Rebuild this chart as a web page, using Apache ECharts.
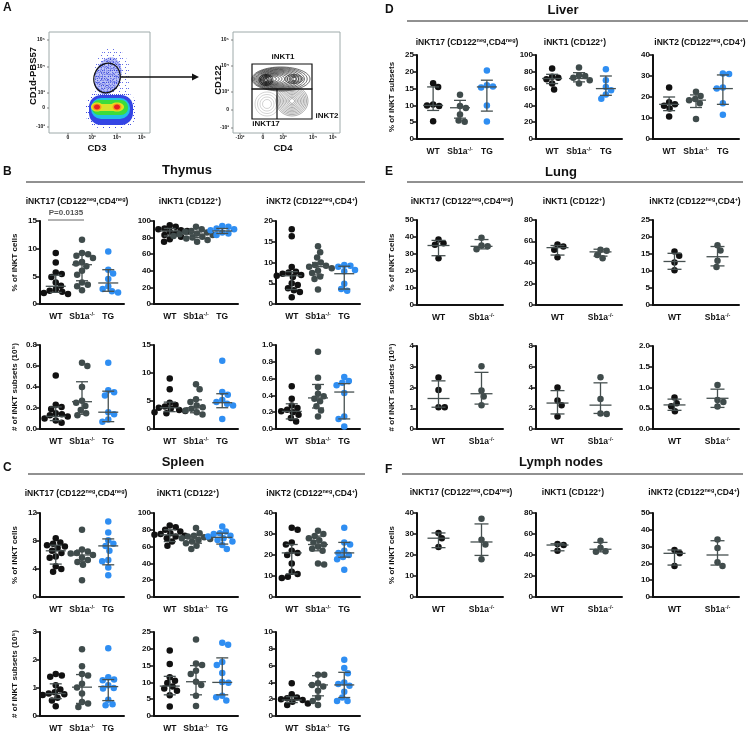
<!DOCTYPE html>
<html>
<head>
<meta charset="utf-8">
<script src="https://cdn.jsdelivr.net/npm/echarts@6/dist/echarts.min.js"></script>
<style>
html, body { margin: 0; background: #fff; }
#main { width: 751px; height: 733px; }
</style>
</head>
<body>
<div id="main"></div>
<script>
// groups
const groupNames = ['WT', 'Sb1a', 'TG'];
const groupColors = ['#111111', '#3f4b4b', '#2f8ef2'];

// thymus, % of iNKT cells  (each: WT, Sb1a, TG) ; bars = [median, low, high]
const thyP17 = [[9.2, 7.5, 5.7, 5.4, 4.9, 3.9, 3.3, 2.6, 2.4, 2.2, 2.0, 1.8, 1.6], [11.6, 9.2, 9.0, 8.7, 8.3, 7.6, 7.3, 6.8, 6.0, 5.3, 3.9, 3.5, 3.2, 2.5], [9.5, 6.2, 5.5, 4.5, 3.2, 2.7, 2.3, 2.1]];
const thyP17Bar = [[3.2, 2.1, 5.2], [7.1, 4.2, 9.0], [3.8, 2.3, 6.2]];
const thyP1 = [[95, 93, 91, 90, 89, 88, 87, 86, 85, 83, 81, 78, 75], [93, 90, 88, 87, 86, 85, 84, 83, 82, 81, 80, 79, 77, 75], [94, 93, 91, 90, 89, 88, 86, 85, 83]];
const thyP1Bar = [[88, 82, 91], [84, 80, 87], [88, 85, 91]];
const thyP2 = [[18, 16.3, 8.9, 7.8, 7.6, 7.3, 7.0, 6.8, 6.5, 5.0, 4.6, 3.8, 3.3, 2.9, 1.6], [13.9, 12.5, 11.2, 10.0, 9.4, 9.2, 9.0, 8.6, 8.0, 7.5, 6.6, 6.0, 3.5], [9.4, 9.2, 9.0, 8.2, 7.9, 4.9, 3.6, 3.2]];
const thyP2Bar = [[6.8, 3.5, 7.8], [9.0, 7.0, 10.0], [7.3, 3.6, 9.1]];
// thymus, # of iNKT subsets
const thyN17 = [[0.51, 0.23, 0.21, 0.19, 0.15, 0.14, 0.13, 0.12, 0.10, 0.08, 0.06], [0.63, 0.60, 0.40, 0.27, 0.25, 0.22, 0.18, 0.15, 0.13], [0.63, 0.37, 0.35, 0.32, 0.16, 0.14, 0.09, 0.07]];
const thyN17Bar = [[0.12, 0.08, 0.21], [0.26, 0.14, 0.45], [0.16, 0.07, 0.36]];
const thyN1 = [[9.0, 7.1, 4.7, 4.3, 4.0, 3.8, 3.6, 3.4, 3.2, 3.0, 2.8], [8.0, 7.1, 5.3, 4.8, 4.2, 3.9, 3.6, 3.3, 3.0, 2.6], [12.2, 6.6, 6.1, 5.2, 4.8, 4.5, 4.2, 1.8]];
const thyN1Bar = [[3.8, 3.1, 4.8], [3.8, 2.9, 5.2], [4.7, 3.8, 6.3]];
const thyN2 = [[0.51, 0.36, 0.28, 0.25, 0.23, 0.21, 0.20, 0.17, 0.13, 0.09], [0.92, 0.61, 0.50, 0.42, 0.39, 0.36, 0.33, 0.27, 0.22, 0.15], [0.62, 0.57, 0.55, 0.52, 0.43, 0.15, 0.12, 0.03]];
const thyN2Bar = [[0.21, 0.12, 0.30], [0.37, 0.25, 0.53], [0.44, 0.12, 0.54]];

// spleen
const splP17 = [[8.4, 7.8, 7.6, 7.4, 7.2, 7.0, 6.6, 6.3, 5.8, 5.6, 4.4, 4.0, 3.6], [9.6, 6.8, 6.5, 6.3, 6.2, 6.0, 5.6, 5.3, 5.0, 4.6, 2.4], [10.8, 9.2, 8.1, 7.6, 7.3, 6.6, 5.3, 5.1, 4.2, 3.1]];
const splP17Bar = [[6.6, 4.7, 7.4], [6.0, 5.1, 6.7], [7.3, 4.6, 8.3]];
const splP1 = [[85, 83, 80, 78, 76, 75, 74, 73, 72, 70, 66, 61], [82, 76, 73, 72, 71, 70, 69, 68, 66, 64, 61, 57], [84, 78, 76, 75, 73, 72, 70, 68, 66, 62, 57]];
const splP1Bar = [[74, 66, 80], [70, 64, 73], [71, 63, 76]];
const splP2 = [[33, 32, 26, 25, 22, 21, 20, 16, 12, 11, 9.7, 9.0], [31.5, 30, 29, 28, 27, 26, 25, 24, 23, 22, 16, 15.5], [33, 26, 25, 22, 21, 20, 19, 18, 13]];
const splP2Bar = [[21, 11, 25], [25, 22, 29], [21, 19, 26]];
const splN17 = [[1.5, 1.45, 1.4, 1.1, 0.95, 0.85, 0.8, 0.78, 0.75, 0.65, 0.55, 0.35], [2.38, 1.78, 1.5, 1.45, 1.15, 1.02, 0.8, 0.5, 0.45, 0.32], [2.42, 1.38, 1.3, 1.28, 1.1, 1.0, 0.98, 0.58, 0.42, 0.38]];
const splN17Bar = [[0.8, 0.62, 1.15], [1.03, 0.45, 1.48], [1.05, 0.55, 1.3]];
const splN1 = [[19.5, 15.5, 11.5, 10.5, 9.8, 8.8, 8.2, 7.5, 6.2, 2.8], [22.8, 15.6, 15.2, 13.5, 12.5, 10.2, 9.2, 6.0, 3.0], [21.8, 21.2, 16.1, 15.2, 12.8, 10.1, 9.9, 6.0, 5.6, 4.6]];
const splN1Bar = [[8.9, 6.3, 11.8], [10.2, 6.3, 15], [10, 6.3, 17.3]];
const splN2 = [[3.9, 2.6, 2.2, 2.1, 2.0, 1.9, 1.8, 1.7, 1.5, 1.3], [4.9, 4.9, 3.9, 3.7, 3.5, 3.0, 2.2, 1.8, 1.3], [6.7, 5.7, 5.1, 4.0, 3.8, 3.6, 2.9, 2.2, 1.8, 1.8]];
const splN2Bar = [[1.9, 1.6, 2.3], [3.7, 2.4, 4.8], [3.7, 2.2, 5.2]];

// liver
const livP17 = [[16.6, 15.5, 10.3, 10.0, 9.8, 5.3], [13.2, 9.8, 9.2, 7.3, 5.5, 5.1], [20.4, 16.0, 15.6, 15.3, 10.0, 5.2]];
const livP17Bar = [[10, 8.5, 15.5], [9.3, 6.2, 11.5], [15.5, 8.3, 17.5]];
const livP1 = [[84, 74, 73, 71, 66, 59], [85, 76, 75, 73, 70, 66], [83, 70, 62, 58, 53, 48]];
const livP1Bar = [[72, 66, 77], [72, 68, 79], [60, 52, 75]];
const livP2 = [[24.5, 17.5, 16.5, 15.8, 14.5, 10.7], [22.5, 20.5, 19, 18.5, 17, 9.5], [31.2, 31.0, 24.5, 24.0, 17.0, 11.5]];
const livP2Bar = [[16.5, 13.5, 20], [18.5, 15, 21], [24, 16.5, 30.5]];

// lung (WT, Sb1a)
const lungP17 = [[38.5, 36.3, 35.5, 27.5], [39.6, 35, 34.5, 32.8]];
const lungP17Bar = [[35, 29, 38], [34.5, 33, 38.5]];
const lungP1 = [[57, 55, 52, 45], [52, 51, 47, 44]];
const lungP1Bar = [[54, 47, 56], [50, 46, 52.5]];
const lungP2 = [[15.7, 14.5, 12.5, 10.2], [17.6, 16.0, 13, 11.2]];
const lungP2Bar = [[12.8, 10.5, 15.2], [14.2, 11.5, 17.2]];
const lungN17 = [[2.48, 1.88, 1.05, 1.05], [3.03, 1.85, 1.57, 1.15]];
const lungN17Bar = [[1.47, 1.05, 2.32], [1.7, 1.2, 2.73]];
const lungN1 = [[4.0, 2.75, 2.3, 1.2], [5.0, 2.9, 1.5, 1.45]];
const lungN1Bar = [[2.5, 1.45, 3.7], [2.3, 1.5, 4.45]];
const lungN2 = [[0.76, 0.62, 0.55, 0.43], [1.06, 0.70, 0.65, 0.54]];
const lungN2Bar = [[0.58, 0.45, 0.72], [0.74, 0.52, 0.96]];

// lymph nodes (WT, Sb1a)
const lnP17 = [[30.5, 28, 23.8], [37.3, 27.3, 25, 18]];
const lnP17Bar = [[28, 23.5, 30.5], [26.2, 19.8, 34.8]];
const lnP1 = [[50.5, 49.5, 44], [53.5, 47, 43.5, 43]];
const lnP1Bar = [[49.5, 44, 50.7], [45.5, 43, 52]];
const lnP2 = [[28, 26, 18.5], [34.3, 29.2, 20.7, 18.5]];
const lnP2Bar = [[26, 19, 28], [25, 19, 33.5]];

const FONT = 'Liberation Sans, Arial, sans-serif';
const pctCells = '% of iNKT cells';
const numSubsets = '# of iNKT subsets (10⁵)';

// layout of the small plots
const L = [40, 154, 276], R = [417, 536, 653];
const panels = [
  { x: L[0], y: 221, w: 84, h: 83, max: 15, step: 5, d: thyP17, b: thyP17Bar, name: pctCells },
  { x: L[1], y: 221, w: 84, h: 83, max: 100, step: 20, d: thyP1, b: thyP1Bar },
  { x: L[2], y: 221, w: 84, h: 83, max: 20, step: 5, d: thyP2, b: thyP2Bar },
  { x: L[0], y: 345, w: 84, h: 84, max: 0.8, step: 0.2, d: thyN17, b: thyN17Bar, name: numSubsets },
  { x: L[1], y: 345, w: 84, h: 84, max: 15, step: 5, d: thyN1, b: thyN1Bar },
  { x: L[2], y: 345, w: 84, h: 84, max: 1.0, step: 0.2, d: thyN2, b: thyN2Bar },
  { x: L[0], y: 513, w: 84, h: 84, max: 12, step: 4, d: splP17, b: splP17Bar, name: pctCells },
  { x: L[1], y: 513, w: 84, h: 84, max: 100, step: 20, d: splP1, b: splP1Bar },
  { x: L[2], y: 513, w: 84, h: 84, max: 40, step: 10, d: splP2, b: splP2Bar },
  { x: L[0], y: 632, w: 84, h: 84, max: 3, step: 1, d: splN17, b: splN17Bar, name: numSubsets },
  { x: L[1], y: 632, w: 84, h: 84, max: 25, step: 5, d: splN1, b: splN1Bar },
  { x: L[2], y: 632, w: 84, h: 84, max: 10, step: 2, d: splN2, b: splN2Bar },
  { x: R[0], y: 55, w: 86, h: 84, max: 25, step: 5, d: livP17, b: livP17Bar, name: '% of iNKT subsets' },
  { x: R[1], y: 55, w: 86, h: 84, max: 100, step: 20, d: livP1, b: livP1Bar },
  { x: R[2], y: 55, w: 86, h: 84, max: 40, step: 10, d: livP2, b: livP2Bar },
  { x: R[0], y: 220, w: 86, h: 85, max: 50, step: 10, d: lungP17, b: lungP17Bar, name: pctCells },
  { x: R[1], y: 220, w: 86, h: 85, max: 80, step: 20, d: lungP1, b: lungP1Bar },
  { x: R[2], y: 220, w: 86, h: 85, max: 25, step: 5, d: lungP2, b: lungP2Bar },
  { x: R[0], y: 346, w: 86, h: 83, max: 4, step: 1, d: lungN17, b: lungN17Bar, name: numSubsets },
  { x: R[1], y: 346, w: 86, h: 83, max: 8, step: 2, d: lungN1, b: lungN1Bar },
  { x: R[2], y: 346, w: 86, h: 83, max: 2, step: 0.5, d: lungN2, b: lungN2Bar },
  { x: R[0], y: 513, w: 86, h: 84, max: 40, step: 10, d: lnP17, b: lnP17Bar, name: pctCells },
  { x: R[1], y: 513, w: 86, h: 84, max: 80, step: 20, d: lnP1, b: lnP1Bar },
  { x: R[2], y: 513, w: 86, h: 84, max: 50, step: 10, d: lnP2, b: lnP2Bar }
];

// spread points sideways like a dot plot so they do not sit on each other
function swarm(vals, pxPerUnit, dia) {
  const order = vals.map((v, i) => i).sort((a, b) => vals[b] - vals[a]);
  const placed = [];
  const off = vals.map(() => 0);
  let side = 1;
  order.forEach(i => {
    const y = vals[i] * pxPerUnit;
    const cands = [0];
    placed.forEach(p => {
      const dy = Math.abs(p.y - y);
      if (dy < dia) {
        const dx = Math.sqrt(dia * dia - dy * dy) + 0.01;
        cands.push(p.x + dx, p.x - dx);
      }
    });
    cands.sort((a, b) => (Math.abs(a) - Math.abs(b)) || (b - a) * side);
    const ok = cands.find(c => placed.every(p => (p.x - c) ** 2 + (p.y - y) ** 2 >= dia * dia - 0.05));
    off[i] = ok;
    placed.push({ x: ok, y: y });
    if (ok !== 0) side = -side;
  });
  return off;
}

const labelRich = {
  m: { fontSize: 8.5, fontWeight: 'bold', color: '#111', fontFamily: FONT, lineHeight: 12 },
  s: { fontSize: 5.5, fontWeight: 'bold', color: '#111', fontFamily: FONT, verticalAlign: 'top', lineHeight: 7 }
};

const grids = [], xAxes = [], yAxes = [], series = [];
panels.forEach((p, k) => {
  const pos = p.d.length === 3 ? [3, 8, 13] : [4, 12];
  const unitX = p.w / 16;
  grids.push({ left: p.x, top: p.y, width: p.w, height: p.h, outerBoundsMode: 'none' });
  xAxes.push({
    gridIndex: k, type: 'value', min: 0, max: 16, interval: 1,
    axisLine: { show: true, onZero: false, lineStyle: { color: '#111', width: 2 } },
    axisTick: { show: false }, splitLine: { show: false },
    axisLabel: {
      margin: 7, rich: labelRich,
      formatter: v => {
        const g = pos.indexOf(v);
        if (g < 0) return '';
        return g === 1 ? '{m|Sb1a}{s|-/-}' : '{m|' + groupNames[g] + '}';
      }
    }
  });
  yAxes.push({
    gridIndex: k, type: 'value', min: 0, max: p.max, interval: p.step,
    axisLine: { show: true, onZero: false, lineStyle: { color: '#111', width: 2 } },
    axisTick: { show: true, length: 4, lineStyle: { color: '#111', width: 1.5 } },
    splitLine: { show: false },
    axisLabel: {
      margin: 3, fontSize: 8, fontWeight: 'bold', color: '#111', fontFamily: FONT,
      formatter: v => p.step < 1 ? v.toFixed(1) : String(v)
    },
    name: p.name || '', nameLocation: 'middle', nameRotate: 90, nameGap: 21,
    nameTextStyle: { fontSize: 8, fontWeight: 'bold', color: '#111', fontFamily: FONT }
  });
  p.d.forEach((vals, g) => {
    const off = swarm(vals, p.h / p.max, 6.2);
    series.push({
      type: 'scatter', xAxisIndex: k, yAxisIndex: k, symbol: 'circle', symbolSize: 6.5,
      itemStyle: { color: groupColors[g], opacity: 1 }, z: 2, silent: true,
      data: vals.map((v, j) => [pos[g] + off[j] / unitX, v])
    });
  });
  const mw = p.d.length === 3 ? 10 : 11, cw = p.d.length === 3 ? 6 : 7;
  series.push({
    type: 'custom', xAxisIndex: k, yAxisIndex: k, z: 4, silent: true,
    encode: { x: 0, y: [1, 2, 3] },
    data: p.b.map((b, g) => [pos[g], b[0], b[1], b[2]]),
    renderItem: (params, api) => {
      const x = api.value(0);
      const m = api.coord([x, api.value(1)]);
      const lo = api.coord([x, api.value(2)]);
      const hi = api.coord([x, api.value(3)]);
      const st = { stroke: '#465050', lineWidth: 1.3 };
      return {
        type: 'group', children: [
          { type: 'line', shape: { x1: m[0] - mw, y1: m[1], x2: m[0] + mw, y2: m[1] }, style: st },
          { type: 'line', shape: { x1: m[0], y1: lo[1], x2: m[0], y2: hi[1] }, style: st },
          { type: 'line', shape: { x1: m[0] - cw, y1: lo[1], x2: m[0] + cw, y2: lo[1] }, style: st },
          { type: 'line', shape: { x1: m[0] - cw, y1: hi[1], x2: m[0] + cw, y2: hi[1] }, style: st }
        ]
      };
    }
  });
});

// ---- texts, headings and panel A (flow plots drawn as picture) ----
const gfx = [];
function txt(x, y, text, size, o) {
  o = o || {};
  gfx.push({
    type: 'text', x: x, y: y, rotation: o.rot || 0, silent: true, z: 10,
    style: {
      text: text, fontSize: size, fontWeight: 'bold', fontFamily: FONT, fill: o.color || '#111',
      align: o.align || 'center', verticalAlign: 'middle',
      textAlign: o.align || 'center', textVerticalAlign: 'middle', rich: o.rich
    }
  });
}
function ln(x1, y1, x2, y2, color, w) {
  gfx.push({ type: 'line', silent: true, z: 10, shape: { x1: x1, y1: y1, x2: x2, y2: y2 }, style: { stroke: color, lineWidth: w } });
}
const titleRich = {
  m: { fontSize: 8.5, fontWeight: 'bold', fontFamily: FONT, fill: '#111', lineHeight: 12 },
  s: { fontSize: 5.5, fontWeight: 'bold', fontFamily: FONT, fill: '#111', lineHeight: 7, verticalAlign: 'top' }
};
const t17 = '{m|iNKT17 (CD122}{s|neg}{m|,CD4}{s|neg}{m|)}';
const t1 = '{m|iNKT1 (CD122}{s|+}{m|)}';
const t2 = '{m|iNKT2 (CD122}{s|neg}{m|,CD4}{s|+}{m|)}';
function section(letter, lx, ly, head, hx, hy, lineX1, lineX2, lineY, titleY, titleXs) {
  txt(lx, ly, letter, 12, { align: 'left' });
  txt(hx, hy, head, 13);
  ln(lineX1, lineY, lineX2, lineY, '#222', 1);
  [t17, t1, t2].forEach((t, i) => txt(titleXs[i], titleY, t, 8.5, { rich: titleRich }));
}
section('B', 3, 172, 'Thymus', 187, 170, 26, 365, 182, 202, [77, 190, 312]);
section('C', 3, 468, 'Spleen', 183, 462, 28, 365, 474, 494, [76, 188, 312]);
section('D', 385, 10, 'Liver', 563, 10, 407, 748, 21, 43, [467, 575, 700]);
section('E', 385, 172, 'Lung', 561, 172, 407, 743, 182, 202, [462, 574, 695]);
section('F', 385, 470, 'Lymph nodes', 561, 462, 402, 743, 474, 493, [461, 573, 694]);

// P value bracket
txt(66, 213, 'P=0.0135', 8, { color: '#555' });
ln(48, 220, 84, 220, '#666', 1);

// panel A
txt(3, 8, 'A', 12, { align: 'left' });
function dotTile(color, spots) {
  const c = document.createElement('canvas');
  c.width = 6; c.height = 6;
  const ctx = c.getContext('2d');
  ctx.fillStyle = color;
  spots.forEach(s => ctx.fillRect(s[0], s[1], 1, 1));
  return { image: c, repeat: 'repeat' };
}
const denseDots = dotTile('#2b39d6', [[0, 0], [3, 1], [1, 3], [4, 4], [2, 5], [5, 2], [0, 4], [3, 3]]);
const sparseDots = dotTile('#3f4be0', [[1, 1], [4, 4], [2, 4]]);
const blobs = [];
function ell(cx, cy, rx, ry, fill, stroke, lw, rot, op) {
  blobs.push({
    type: 'ellipse', x: cx, y: cy, rotation: rot || 0, silent: true, z: 8,
    shape: { cx: 0, cy: 0, rx: rx, ry: ry },
    style: { fill: fill || 'none', stroke: stroke || 'none', lineWidth: lw || 1, opacity: op == null ? 1 : op }
  });
}
// left plot: density
ell(112, 78, 19, 30, sparseDots, null, 1, 0, 0.8);
ell(108, 76, 13, 19, 'rgba(70,85,230,0.35)', null, 1, -0.3, 1);
ell(108, 76, 13, 19, denseDots, null, 1, -0.3, 1);
blobs.push({ type: 'rect', silent: true, z: 8, shape: { x: 86, y: 92, width: 50, height: 36, r: 14 }, style: { fill: sparseDots } });
blobs.push({ type: 'rect', silent: true, z: 8, shape: { x: 89, y: 95, width: 44, height: 30, r: 12 }, style: { fill: '#3445e4' } });
blobs.push({ type: 'rect', silent: true, z: 8, shape: { x: 91, y: 98, width: 39, height: 21, r: 10 }, style: { fill: '#22bfe6' } });
blobs.push({ type: 'rect', silent: true, z: 8, shape: { x: 92, y: 100, width: 36, height: 15, r: 7 }, style: { fill: '#3cdc3c' } });
blobs.push({ type: 'rect', silent: true, z: 8, shape: { x: 95, y: 104, width: 25, height: 7, r: 3 }, style: { fill: '#d8e22c' } });
ell(97, 107, 6, 4.5, '#e6e020');
ell(117, 107, 7, 4.5, '#e6e020');
ell(97, 107, 4.5, 3.5, '#f39a1e');
ell(117, 107, 4.5, 3.5, '#f39a1e');
ell(97, 107, 3, 2.5, '#e82020');
ell(117, 107, 3, 2.5, '#e82020');
ell(107, 78, 13, 15, null, '#111', 1.2, -0.35);
// right plot: contours
for (let i = 0; i < 13; i++) ell(281 - 0.8 * i, 79, 29 - 2.0 * i, 12 - 0.8 * i, null, 'rgba(25,25,25,0.85)', 0.75);
for (let i = 0; i < 5; i++) ell(266, 80, 7 - 1.3 * i, 5.5 - 1.0 * i, null, '#111', 0.8);
for (let i = 0; i < 4; i++) ell(294, 79, 9 - 2 * i, 4.5 - 1 * i, null, '#333', 0.8);
for (let i = 0; i < 10; i++) ell(292, 101, 16 - 1.5 * i, 15 - 1.4 * i, null, 'rgba(95,95,95,0.75)', 0.7);
for (let i = 0; i < 4; i++) ell(267, 104, 12 - 2.5 * i, 12 - 2.5 * i, null, 'rgba(150,150,150,0.6)', 0.7);
blobs.forEach(b => gfx.push(b));

[[49, 32, 101, 101], [233, 32, 107, 101]].forEach(r => gfx.push({
  type: 'rect', silent: true, z: 9, shape: { x: r[0], y: r[1], width: r[2], height: r[3] },
  style: { fill: 'none', stroke: '#9eaaaa', lineWidth: 1 }
}));
gfx.push({ type: 'rect', silent: true, z: 9, shape: { x: 252, y: 64, width: 60, height: 25 }, style: { fill: 'none', stroke: '#111', lineWidth: 1.2 } });
gfx.push({ type: 'rect', silent: true, z: 9, shape: { x: 252, y: 89, width: 60, height: 30 }, style: { fill: 'none', stroke: '#111', lineWidth: 1.2 } });
ln(277, 89, 277, 119, '#111', 1.2);
ln(121, 77, 193, 77, '#111', 1.3);
gfx.push({ type: 'polygon', silent: true, z: 9, shape: { points: [[192, 73.5], [199, 77], [192, 80.5]] }, style: { fill: '#111' } });
txt(283, 57, 'iNKT1', 8);
txt(266, 124, 'iNKT17', 8);
txt(327, 116, 'iNKT2', 8);

const yTicks = ['10⁵', '10⁴', '10³', '0', '-10³'];
[40, 67, 93, 108, 127].forEach((y, i) => { txt(45, y, yTicks[i], 5, { align: 'right' }); ln(47, y, 49, y, '#666', 0.8); });
[40, 66, 92, 110, 128].forEach((y, i) => { txt(229, y, yTicks[i], 5, { align: 'right' }); ln(231, y, 233, y, '#666', 0.8); });
[[68, '0'], [92, '10³'], [117, '10⁴'], [142, '10⁵']].forEach(t => { txt(t[0], 138, t[1], 5); ln(t[0], 133, t[0], 135, '#666', 0.8); });
[[240, '-10³'], [263, '0'], [283, '10³'], [313, '10⁴'], [333, '10⁵']].forEach(t => { txt(t[0], 138, t[1], 5); ln(t[0], 133, t[0], 135, '#666', 0.8); });
txt(97, 148, 'CD3', 9.5);
txt(283, 148, 'CD4', 9.5);
txt(33, 76, 'CD1d-PBS57', 9.5, { rot: Math.PI / 2 });
txt(218, 80, 'CD122', 9.5, { rot: Math.PI / 2 });

const chart = echarts.init(document.getElementById('main'), null, { renderer: 'canvas' });
chart.setOption({
  animation: false,
  backgroundColor: '#fff',
  textStyle: { fontFamily: FONT },
  grid: grids,
  xAxis: xAxes,
  yAxis: yAxes,
  series: series,
  graphic: { elements: gfx }
});
</script>
</body>
</html>
